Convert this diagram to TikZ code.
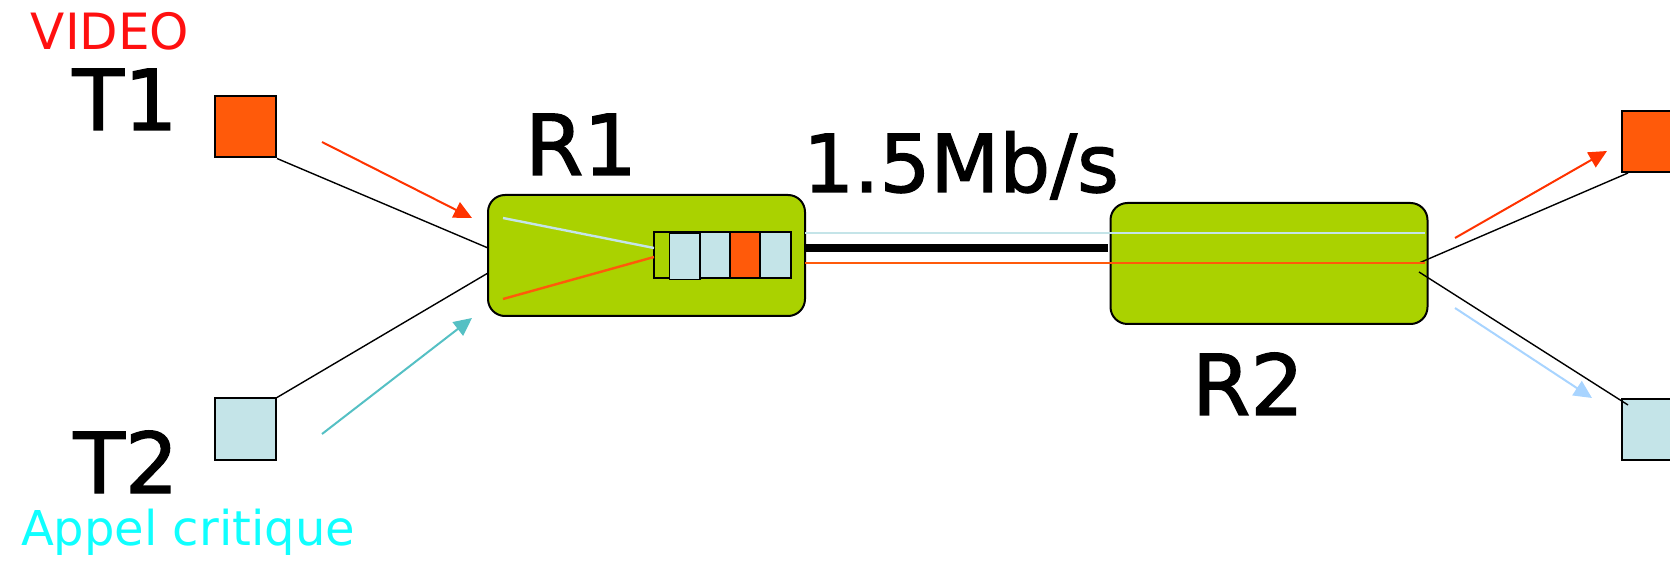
\documentclass[tikz,border=0pt]{standalone}
\usepackage{fontspec}
\setmainfont{DejaVu Sans}
\newfontfamily\heavysans{DejaVu Sans}[FakeBold=1.6]
\usetikzlibrary{arrows.meta}

\definecolor{hostorange}{HTML}{FF5A0A}
\definecolor{hostblue}{HTML}{C4E4E8}
\definecolor{routergreen}{HTML}{AAD200}
\definecolor{flowred}{HTML}{FF3300}
\definecolor{flowteal}{HTML}{55C0C4}
\definecolor{flowsky}{HTML}{A8D4FF}
\definecolor{labelred}{HTML}{FF1010}
\definecolor{labelcyan}{HTML}{10FFFF}

\tikzset{
  host/.style={draw=black, line width=1pt, minimum width=30.5pt, minimum height=30.5pt, inner sep=0pt},
  router/.style={draw=black, line width=1pt, fill=routergreen, rounded corners=8.5pt,
                 minimum width=158.5pt, minimum height=60.5pt, inner sep=0pt},
  cell/.style={draw=black, line width=0.8pt, inner sep=0pt, minimum height=23pt, minimum width=15.2pt},
  wire/.style={black, line width=0.7pt},
  flow/.style={line width=1pt, -{Triangle[length=9pt,width=8.5pt]}},
  bigtxt/.style={font=\heavysans\fontsize{42}{50}\selectfont, inner sep=0pt, anchor=base},
}

\begin{document}
\begin{tikzpicture}[x=0.5pt, y=-0.5pt]
\useasboundingbox (0,0) rectangle (1670,566);

% hosts
\node[host, fill=hostorange] (t1) at (245.5,127) {};
\node[host, fill=hostblue]   (t2) at (245.5,429) {};
\node[host, fill=hostorange] (t3) at (1652.5,141.5) {};
\node[host, fill=hostblue]   (t4) at (1652.5,429.5) {};

% routers
\node[router] (r1) at (646.5,255.5) {};
\node[router] (r2) at (1269,263.5) {};

% attachment points
\coordinate (r1a) at (488,248);
\coordinate (r1b) at (488,273);
\coordinate (r2a) at (1419,263);
\coordinate (r2b) at (1419,272);
\coordinate (t3a) at (1628,173);
\coordinate (t4a) at (1628,405);
\coordinate (r1e) at (805,248);
\coordinate (r2w) at (1108,248);

% access links
\draw[wire] (t1.south east) -- (r1a);
\draw[wire] (t2.north east) -- (r1b);
\draw[wire] (r2a) -- (t3a);
\draw[wire] (r2b) -- (t4a);

% bottleneck link and the two flows along it
\draw[black, line width=4pt] (r1e) -- (r2w);
\coordinate (blA) at (805,233);
\coordinate (blB) at (1425,233);
\coordinate (orA) at (805,263);
\coordinate (orM) at (1110,263);
\coordinate (orB) at (1425,263);
\draw[hostblue, line width=1.2pt] (blA) -- (blB);
\draw[hostorange, line width=0.8pt] (orA) -- (orM);
\draw[hostorange, line width=1.3pt] (orM) -- (orB);

% queue in R1
\node[draw=black, line width=0.8pt, fill=routergreen, minimum width=68.5pt, minimum height=23pt,
      inner sep=0pt] (q) at (722.5,255) {};
\node[cell, fill=hostblue]   (c1) at (684.5,256.5) {};
\node[cell, fill=hostblue]   (c2) at (715,255) {};
\node[cell, fill=hostorange] (c3) at (745,255) {};
\node[cell, fill=hostblue]   (c4) at (775.5,255) {};

% flows entering the queue
\coordinate (in1) at (503,218);
\coordinate (in2) at (503,299);
\coordinate (qin1) at (654,248);
\coordinate (qin2) at (654,257);
\draw[hostblue, line width=1.2pt] (in1) -- (qin1);
\draw[hostorange, line width=1.2pt] (in2) -- (qin2);

% direction arrows
\coordinate (a1s) at (322,142);  \coordinate (a1e) at (472,218);
\coordinate (a2s) at (322,434);  \coordinate (a2e) at (472,318);
\coordinate (a3s) at (1455,238); \coordinate (a3e) at (1607,151);
\coordinate (a4s) at (1455,308); \coordinate (a4e) at (1592,398);
\draw[flow, flowred]  (a1s) -- (a1e);
\draw[flow, flowteal] (a2s) -- (a2e);
\draw[flow, flowred]  (a3s) -- (a3e);
\draw[flow, flowsky]  (a4s) -- (a4e);

% labels
\node[bigtxt] (lt1) at (125,130) {T1};
\node[bigtxt] (lt2) at (126,493) {T2};
\node[bigtxt] (lr1) at (581,175) {R1};
\node[bigtxt] (lr2) at (1248,415) {R2};
\node[bigtxt, font=\heavysans\fontsize{40}{48}\selectfont] (rate) at (961,192) {1.5Mb/s};
\node[inner sep=0pt, anchor=base, text=labelred, font=\fontsize{25}{30}\selectfont] (video) at (110,50) {VIDEO};
\node[inner sep=0pt, anchor=base, text=labelcyan, font=\fontsize{24}{28}\selectfont] (appel) at (188,545) {Appel critique};
\end{tikzpicture}
\end{document}
